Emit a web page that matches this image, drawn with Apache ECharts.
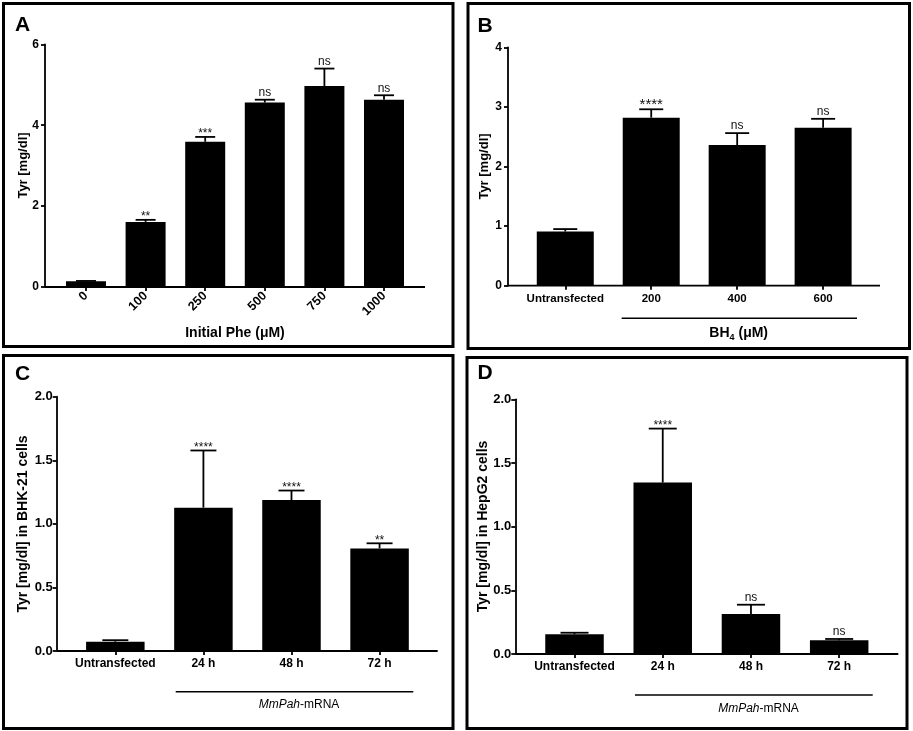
<!DOCTYPE html>
<html lang="en">
<head>
  <meta charset="UTF-8">
  <title>Tyr production</title>
  <script src="https://cdn.jsdelivr.net/npm/echarts@6/dist/echarts.min.js"></script>
</head>
<body style="margin:0;background:#fff;">
  <div id="main" style="width:913px;height:731px;background:#fff;"></div>
  <script type="text/javascript">
    // A: Tyr vs initial Phe
    var catA = ['0', '100', '250', '500', '750', '1000'];
    var meanA = [0.14, 1.61, 3.59, 4.56, 4.97, 4.63];
    var errA = [0.01, 0.05, 0.12, 0.07, 0.43, 0.11];
    var sigA = ['', '**', '***', 'ns', 'ns', 'ns'];
    var ticksA = [0, 6, 2];

    // B: BH4
    var catB = ['Untransfected', '200', '400', '600'];
    var meanB = [0.91, 2.82, 2.36, 2.65];
    var errB = [0.04, 0.14, 0.2, 0.15];
    var sigB = ['', '****', 'ns', 'ns'];
    var ticksB = [0, 4, 1];

    // C: BHK-21
    var catC = ['Untransfected', '24 h', '48 h', '72 h'];
    var meanC = [0.073, 1.127, 1.187, 0.807];
    var errC = [0.012, 0.45, 0.075, 0.04];
    var sigC = ['', '****', '****', '**'];
    var ticksC = [0, 2, 0.5];

    // D: HepG2
    var catD = ['Untransfected', '24 h', '48 h', '72 h'];
    var meanD = [0.155, 1.346, 0.314, 0.107];
    var errD = [0.012, 0.424, 0.073, 0.011];
    var sigD = ['', '****', 'ns', 'ns'];
    var ticksD = [0, 2, 0.5];

    var FONT = '"Liberation Sans", Arial, Helvetica, sans-serif';

    function xAx(idx, cats, size, rotate) {
      return {
        type: 'category', gridIndex: idx, data: cats,
        axisLine: { show: false },
        axisTick: { show: true, alignWithLabel: true, length: 4, lineStyle: { color: '#000', width: 1.8 } },
        axisLabel: { interval: 0, rotate: rotate || 0, margin: 7, color: '#000', fontWeight: 'bold', fontSize: size, fontFamily: FONT },
        splitLine: { show: false }
      };
    }

    function yAx(idx, t, off, size, margin, dec) {
      return {
        type: 'value', gridIndex: idx, min: t[0], max: t[1], interval: t[2], offset: off,
        axisLine: { show: true, lineStyle: { color: '#000', width: 1.8 } },
        axisTick: { show: true, length: 4, lineStyle: { color: '#000', width: 1.8 } },
        axisLabel: {
          margin: margin, color: '#000', fontWeight: 'bold', fontSize: size, fontFamily: FONT,
          formatter: function (v) { return dec ? v.toFixed(1) : String(v); }
        },
        splitLine: { show: false }
      };
    }

    function bars(idx, means, bw) {
      return {
        type: 'bar', xAxisIndex: idx, yAxisIndex: idx, data: means, barWidth: bw,
        itemStyle: { color: '#000' }, silent: true, animation: false
      };
    }

    function errs(idx, means, sd, sig, cap, starSize) {
      var d = [];
      for (var i = 0; i < means.length; i++) d.push([i, means[i], sd[i]]);
      return {
        type: 'custom', xAxisIndex: idx, yAxisIndex: idx, data: d, silent: true, animation: false, z: 5,
        renderItem: function (params, api) {
          var i = api.value(0), m = api.value(1), e = api.value(2);
          var p0 = api.coord([i, m]);
          var p1 = api.coord([i, m + e]);
          var s = sig[params.dataIndex];
          var kids = [
            { type: 'line', shape: { x1: p0[0], y1: p0[1], x2: p1[0], y2: p1[1] }, style: { stroke: '#000', lineWidth: 1.8 } },
            { type: 'line', shape: { x1: p1[0] - cap, y1: p1[1], x2: p1[0] + cap, y2: p1[1] }, style: { stroke: '#000', lineWidth: 1.8 } }
          ];
          if (s) {
            var ns = s === 'ns';
            kids.push({
              type: 'text', x: p1[0], y: ns ? p1[1] - 1 : p1[1] + 3,
              style: {
                text: s, textAlign: 'center', textVerticalAlign: 'bottom', fill: '#111',
                font: (ns ? 12 : starSize) + 'px ' + FONT
              }
            });
          }
          return { type: 'group', children: kids };
        }
      };
    }

    function box(x, y, w, h) {
      return { type: 'rect', shape: { x: x, y: y, width: w, height: h }, style: { fill: null, stroke: '#000', lineWidth: 3 }, silent: true };
    }
    function hline(x1, x2, y, lw) {
      return { type: 'line', shape: { x1: x1, y1: y, x2: x2, y2: y }, style: { stroke: '#000', lineWidth: lw || 1.8 }, silent: true };
    }
    function txt(x, y, s, font, rot, rich) {
      var st = { text: s, font: font, fill: '#000', textAlign: 'center', textVerticalAlign: 'middle' };
      if (rich) st.rich = rich;
      return { type: 'text', x: x, y: y, rotation: rot || 0, style: st, silent: true };
    }

    var myChart = echarts.init(document.getElementById('main'), null, { renderer: 'canvas' });

    var option = {
      backgroundColor: '#fff',
      animation: false,
      grid: [
        { left: 56.2, top: 44.3, width: 357.6, height: 242.7, containLabel: false, outerBoundsMode: 'none' },
        { left: 522.3, top: 47.3, width: 343.8, height: 238.4, containLabel: false, outerBoundsMode: 'none' },
        { left: 71.3, top: 396.7, width: 352.3, height: 254.3, containLabel: false, outerBoundsMode: 'none' },
        { left: 530.4, top: 399.3, width: 352.9, height: 254.7, containLabel: false, outerBoundsMode: 'none' }
      ],
      xAxis: [
        xAx(0, catA, 12.5, 45),
        xAx(1, catB, 11.5),
        xAx(2, catC, 12),
        xAx(3, catD, 12)
      ],
      yAxis: [
        yAx(0, ticksA, 11.2, 12, 6, false),
        yAx(1, ticksB, 14.3, 12, 6, false),
        yAx(2, ticksC, 14.6, 13, 4, true),
        yAx(3, ticksD, 15.1, 13, 4, true)
      ],
      series: [
        bars(0, meanA, 40), errs(0, meanA, errA, sigA, 10, 12),
        bars(1, meanB, 57), errs(1, meanB, errB, sigB, 12, 15),
        bars(2, meanC, 58.5), errs(2, meanC, errC, sigC, 13, 12),
        bars(3, meanD, 58.5), errs(3, meanD, errD, sigD, 14, 12)
      ],
      graphic: [
        // panel frames
        box(3.5, 3.5, 449.5, 343),
        box(468, 3.5, 441.5, 345),
        box(3.5, 355.5, 449.5, 373),
        box(467, 357.5, 440, 371),
        // panel letters
        txt(22.5, 25.5, 'A', 'bold 21px ' + FONT),
        txt(485, 26.5, 'B', 'bold 21px ' + FONT),
        txt(22.5, 374.5, 'C', 'bold 21px ' + FONT),
        txt(485, 373.5, 'D', 'bold 21px ' + FONT),
        // x baselines (Prism style, a bit wider than the categories)
        hline(45, 425, 287),
        hline(508, 880, 285.7),
        hline(56.7, 437.7, 651),
        hline(515.3, 898.3, 654),
        // group brackets
        hline(621.7, 857, 318.3, 1.5),
        hline(175.7, 413.3, 691.7, 1.5),
        hline(635, 872.7, 695, 1.5),
        // y titles
        txt(23, 165.5, 'Tyr [mg/dl]', 'bold 13px ' + FONT, Math.PI / 2),
        txt(484.3, 166.5, 'Tyr [mg/dl]', 'bold 13px ' + FONT, Math.PI / 2),
        txt(23, 524, 'Tyr [mg/dl] in BHK-21 cells', 'bold 14px ' + FONT, Math.PI / 2),
        txt(483, 526.5, 'Tyr [mg/dl] in HepG2 cells', 'bold 14px ' + FONT, Math.PI / 2),
        // x titles
        txt(235, 333, 'Initial Phe (\u03bcM)', 'bold 14px ' + FONT),
        txt(738.7, 332.7, '{b|BH}{s|4}{b| (\u03bcM)}', 'bold 14px ' + FONT, 0, {
          b: { fontSize: 14, fontWeight: 'bold', fontFamily: FONT, lineHeight: 18, verticalAlign: 'middle' },
          s: { fontSize: 9, fontWeight: 'bold', fontFamily: FONT, lineHeight: 9, verticalAlign: 'bottom' }
        }),
        txt(299, 704.3, '{i|MmPah}-mRNA', '12px ' + FONT, 0, {
          i: { fontSize: 12, fontStyle: 'italic', fontFamily: FONT }
        }),
        txt(758.5, 708.3, '{i|MmPah}-mRNA', '12px ' + FONT, 0, {
          i: { fontSize: 12, fontStyle: 'italic', fontFamily: FONT }
        })
      ]
    };

    myChart.setOption(option);
  </script>
</body>
</html>
